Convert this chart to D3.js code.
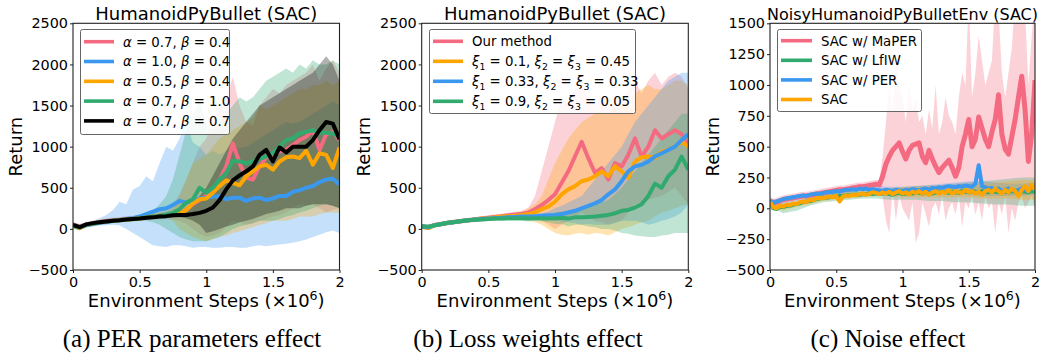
<!DOCTYPE html>
<html><head><meta charset="utf-8">
<script src="https://cdn.jsdelivr.net/npm/d3@7"></script>
<style>body{margin:0;background:#fff}svg{display:block}</style>
</head><body>
<script>
// ---------------- DATA ----------------
const steps05 = [0,0.05,0.1,0.15,0.2,0.25,0.3,0.35,0.4,0.45,0.5,0.55,0.6,0.65,0.7,0.75,0.8,0.85,0.9,0.95,1,1.05,1.1,1.15,1.2,1.25,1.3,1.35,1.4,1.45,1.5,1.55,1.6,1.65,1.7,1.75,1.8,1.85,1.9,1.95,2];
const steps10 = [0,0.1,0.2,0.3,0.4,0.5,0.6,0.7,0.8,0.9,1,1.1,1.2,1.3,1.4,1.5,1.6,1.7,1.8,1.9,2];
const steps025 = [0,0.025,0.05,0.075,0.1,0.125,0.15,0.175,0.2,0.225,0.25,0.275,0.3,0.325,0.35,0.375,0.4,0.425,0.45,0.475,0.5,0.525,0.55,0.575,0.6,0.625,0.65,0.675,0.7,0.725,0.75,0.775,0.8,0.825,0.85,0.875,0.9,0.925,0.95,0.975,1,1.025,1.05,1.075,1.1,1.125,1.15,1.175,1.2,1.225,1.25,1.275,1.3,1.325,1.35,1.375,1.4,1.425,1.45,1.475,1.5,1.525,1.55,1.575,1.6,1.625,1.65,1.675,1.7,1.725,1.75,1.775,1.8,1.825,1.85,1.875,1.9,1.925,1.95,1.975,2];

const xTicks = [0,0.5,1,1.5,2];
const xTickLabels = ["0","0.5","1","1.5","2"];
const yTicksA = [-500,0,500,1000,1500,2000,2500];
const yTicksC = [-500,-250,0,250,500,750,1000,1250,1500];

const titles = ["HumanoidPyBullet (SAC)","HumanoidPyBullet (SAC)","NoisyHumanoidPyBulletEnv (SAC)"];
const captions = ["(a) PER parameters effect","(b) Loss weights effect","(c) Noise effect"];

// Panel (a): PER parameters
const p1Pink   = [50,25,55,70,85,95,105,110,120,125,130,140,150,160,170,180,200,230,300,350,400,480,600,760,1040,800,620,600,760,870,900,940,960,1020,1080,1120,1200,960,1150,1180,1080];
const p1Blue   = [40,10,45,60,75,85,95,105,120,130,150,180,210,240,250,290,340,320,340,370,380,390,400,360,380,380,340,370,380,350,370,400,400,450,470,500,520,570,600,610,540];
const p1Orange = [40,10,50,65,80,90,100,105,115,120,130,140,150,160,170,180,190,230,310,360,370,440,520,590,560,530,640,700,760,780,720,820,870,880,860,950,780,920,900,740,990];
const p1Green  = [40,20,50,65,80,90,100,105,115,120,130,140,150,160,175,195,240,320,360,500,440,500,600,680,830,820,800,820,850,880,920,1000,1080,1100,1160,1180,1200,1170,1170,1160,1120];
const p1Black  = [50,20,55,70,80,90,100,105,115,120,125,135,140,150,155,165,170,170,180,195,220,260,350,480,590,650,700,760,900,960,820,990,930,1000,1000,1000,1080,1200,1300,1280,1090];

const p1PinkUp   = [80,60,85,100,115,125,135,145,155,160,170,185,200,220,250,300,420,600,800,1000,1100,1300,1500,1600,1850,1500,1300,1250,1500,1600,1700,1650,1750,1800,1850,1900,2000,1800,1950,2050,1900];
const p1PinkLo   = [20,-10,25,40,55,65,75,80,90,95,100,105,110,115,120,110,100,60,0,-60,-100,-80,-50,20,100,80,50,70,100,120,150,170,200,250,300,280,300,250,200,230,250];
const p1BlueUp   = [80,60,80,100,130,170,230,330,300,480,520,640,580,800,1000,950,1100,1300,1050,1000,900,950,900,950,1000,980,1000,1050,1100,1150,1200,1250,1300,1280,1300,1350,1400,1450,1500,1550,1500];
const p1BlueLo   = [0,-20,20,30,40,45,50,40,0,-50,-100,-150,-200,-210,-220,-200,-200,-210,-230,-220,-220,-230,-230,-220,-220,-230,-230,-210,-200,-210,-200,-190,-180,-170,-150,-130,-100,-70,-40,-20,-50];
const p1OrangeUp = [70,40,75,90,105,115,125,135,145,150,160,170,180,190,200,250,400,600,800,850,900,1000,1100,1150,1200,1250,1300,1350,1500,1450,1500,1550,1600,1650,1700,1700,1750,1750,1800,1750,1800];
const p1OrangeLo = [10,-20,25,40,55,65,75,80,85,90,100,110,120,130,140,100,0,-50,-100,-130,-150,-130,-100,-80,-50,-30,0,20,50,70,100,100,100,120,150,150,150,180,200,200,200];
const p1GreenUp  = [70,50,75,90,105,115,125,135,145,150,160,180,220,300,400,600,900,1200,1400,1550,1300,1200,1300,1400,1500,1600,1550,1600,1700,1800,1850,1900,1950,1900,2000,1950,2050,2000,2000,2050,2000];
const p1GreenLo  = [10,-10,25,40,55,65,75,80,85,90,100,100,80,50,0,-50,-100,-130,-150,-150,-150,-120,-100,-50,0,30,50,70,100,100,100,120,150,170,200,220,250,280,300,280,250];
const p1BlackUp  = [70,40,75,90,100,110,120,125,135,140,145,155,160,170,180,190,200,220,300,400,500,650,800,950,1100,1200,1300,1400,1500,1550,1600,1650,1700,1750,1800,1850,1900,2000,2100,2000,1800];
const p1BlackLo  = [30,0,35,50,60,70,80,85,95,100,105,115,120,130,130,140,140,130,100,50,-50,-30,0,30,50,80,100,120,150,180,200,220,250,250,250,280,300,300,300,280,250];

// Panel (b): loss weights
const p2Pink   = [30,20,50,60,75,85,95,105,115,125,135,145,155,165,175,185,200,240,290,350,420,560,700,880,1060,860,680,740,600,800,760,900,1100,880,1000,1200,1100,1150,1200,1150,1000];
const p2Orange = [30,10,45,60,75,85,95,105,115,125,130,140,150,155,160,170,180,200,240,270,330,420,480,520,580,600,640,700,640,760,700,620,820,870,880,860,940,960,1000,1060,1000];
const p2Blue   = [30,20,45,60,75,85,95,105,115,120,125,130,135,140,145,150,150,155,160,165,170,180,200,220,250,280,310,350,420,480,580,700,760,780,820,880,920,960,1000,1080,1150];
const p2Green  = [30,25,45,60,75,85,95,105,110,115,120,125,125,130,130,130,125,130,130,125,130,135,125,140,140,145,150,160,170,190,220,230,260,300,400,550,500,640,720,880,720];

const p2PinkUp   = [60,50,75,90,105,115,125,135,145,155,165,175,185,195,205,220,260,400,700,1000,1300,1600,1500,1700,1750,1600,1500,1650,1450,1600,1550,1700,1800,1650,1800,1900,1750,1850,1900,1850,1700];
const p2PinkLo   = [0,-10,25,30,45,55,65,75,85,95,105,115,125,135,145,150,150,130,100,50,0,50,100,150,200,150,100,80,50,80,100,200,300,320,350,380,400,450,500,400,300];
const p2OrangeUp = [60,40,70,85,100,110,120,130,140,150,155,165,175,180,190,200,250,300,400,600,800,950,1100,1200,1300,1350,1400,1450,1400,1500,1500,1550,1650,1700,1750,1700,1700,1750,1800,1800,1750];
const p2OrangeLo = [0,-20,20,35,50,60,70,80,90,100,105,115,125,130,130,130,110,80,50,0,-50,-70,-80,-60,-50,-70,-50,-60,-80,-40,0,20,50,80,100,150,200,220,250,280,300];
const p2BlueUp   = [60,50,70,85,100,110,120,130,140,145,150,155,160,165,170,175,180,185,190,210,250,280,320,360,400,500,600,700,800,900,1000,1150,1300,1400,1500,1600,1700,1800,1850,1900,1900];
const p2BlueLo   = [0,-10,20,35,50,60,70,80,90,95,100,105,110,115,120,125,120,125,130,120,100,90,80,70,50,60,50,50,50,70,100,100,100,80,50,70,100,120,150,200,300];
const p2GreenUp  = [60,55,70,85,100,110,120,130,135,140,145,150,155,160,160,160,160,165,170,170,200,210,220,240,250,280,300,320,350,420,500,600,700,800,900,1000,1100,1200,1300,1400,1400];
const p2GreenLo  = [0,-5,20,35,50,60,70,80,85,90,95,100,95,100,100,100,90,95,90,80,60,60,30,50,50,30,20,0,0,-20,-50,-60,-80,-90,-100,-100,-80,-70,-50,-50,-50];

// Panel (c): noise
const p3Pink = [60,40,50,60,70,75,80,85,90,95,100,100,105,110,115,120,125,130,135,140,145,150,150,155,160,165,170,175,175,180,185,190,195,
  190,260,360,420,470,500,530,460,400,470,510,520,530,420,370,470,400,340,290,330,360,390,330,260,330,500,600,720,500,560,740,650,560,500,620,720,920,600,480,440,580,720,900,1070,800,380,600,1040];
const p3PinkUp = [95,75,85,95,105,110,115,120,125,130,135,135,140,145,150,155,160,165,170,175,180,185,185,190,195,200,205,210,210,215,220,225,230,
  230,420,700,1000,800,1200,1000,900,700,1000,800,900,700,750,600,800,650,1000,600,700,900,750,700,600,900,1100,1000,1700,900,1100,1400,1200,1000,1100,1200,1700,1600,1100,900,1100,1300,1700,1600,1800,1600,1000,1400,1700];
const p3PinkLo = [25,5,15,25,35,40,45,50,55,60,65,65,70,75,80,85,90,95,100,105,110,115,115,120,125,130,135,140,140,145,150,155,160,
  150,100,-100,-200,150,-100,100,0,-50,-100,50,-280,-200,50,-50,-150,0,50,-50,100,-100,0,50,-50,100,-150,50,0,100,-50,50,-100,100,0,50,-200,50,-50,100,-200,0,-100,50,100,0,50,100,0];
const p3Green = [40,0,-5,10,10,20,20,30,35,40,50,55,60,65,75,80,85,85,90,95,95,100,100,105,105,110,110,110,115,115,120,115,120,115,120,125,115,110,120,125,115,120,125,120,130,125,120,130,125,120,130,125,135,130,125,135,130,125,140,135,130,140,135,130,140,135,130,140,135,130,140,135,130,140,135,130,140,135,130,140,135];
const p3Blue = [60,45,55,65,75,80,85,90,95,100,105,100,110,115,120,115,125,130,130,135,140,135,145,150,150,155,150,160,155,160,150,155,150,145,140,150,145,140,150,145,140,150,145,155,150,145,155,160,150,165,160,170,165,175,180,175,170,180,175,185,180,175,200,350,180,170,160,165,150,160,140,150,160,150,140,150,160,150,140,170,160];
const p3Orange = [50,10,0,20,15,30,25,40,35,50,55,50,70,65,80,85,80,90,95,90,100,55,95,105,100,110,105,115,120,110,120,130,125,115,130,120,135,115,130,140,120,130,115,135,125,140,120,135,110,130,140,120,135,125,145,120,140,130,125,150,130,140,120,135,110,140,150,130,160,140,120,150,130,160,140,100,150,180,140,190,150];
const p3OrangeUp = [80,40,60,90,100,120,130,140,150,160,170,175,180,185,190,200,200,210,220,230,230];
const p3OrangeLo = [20,-20,10,30,60,70,80,90,100,100,90,90,90,90,90,90,80,80,80,70,70];
const p3GreenUp  = [70,30,50,80,110,130,140,150,160,165,170,180,185,190,200,210,220,230,240,250,250];
const p3GreenLo  = [10,-40,-20,20,50,60,70,80,80,70,70,70,60,60,50,50,40,30,30,20,20];
const p3BlueUp   = [80,70,100,120,140,160,170,180,180,175,175,180,190,200,210,220,220,210,200,200,210];
const p3BlueLo   = [40,30,60,80,100,110,120,120,120,110,110,110,120,120,120,110,100,100,100,100,110];

// Legend labels (segments: [text, style])
const legendA = [
  [["α","i"],[" = 0.7, "],["β","i"],[" = 0.4"]],
  [["α","i"],[" = 1.0, "],["β","i"],[" = 0.4"]],
  [["α","i"],[" = 0.5, "],["β","i"],[" = 0.4"]],
  [["α","i"],[" = 0.7, "],["β","i"],[" = 1.0"]],
  [["α","i"],[" = 0.7, "],["β","i"],[" = 0.7"]]
];
const legendB = [
  [["Our method"]],
  [["ξ","i"],["1","sub"],[" = 0.1, "],["ξ","i"],["2","sub"],[" = "],["ξ","i"],["3","sub"],[" = 0.45"]],
  [["ξ","i"],["1","sub"],[" = 0.33, "],["ξ","i"],["2","sub"],[" = "],["ξ","i"],["3","sub"],[" = 0.33"]],
  [["ξ","i"],["1","sub"],[" = 0.9, "],["ξ","i"],["2","sub"],[" = "],["ξ","i"],["3","sub"],[" = 0.05"]]
];
const legendC = [[["SAC w/ MaPER"]],[["SAC w/ LfIW"]],[["SAC w/ PER"]],[["SAC"]]];

// ---------------- STYLE ----------------
const C = {pink:"#f46a80", blue:"#3a98ef", orange:"#ffa500", green:"#31aa6f", black:"#000000"};
const SANS = "'DejaVu Sans', sans-serif";
const SERIF = "'Liberation Serif', 'Times New Roman', serif";

const svg = d3.select("body").append("svg").attr("width",1043).attr("height",356);

function rich(textSel, segs, fs){
  let shift = 0;
  segs.forEach(s=>{
    const t = textSel.append("tspan").text(s[0]);
    let target = 0;
    if (s[1]==="i") t.style("font-style","italic");
    if (s[1]==="sub"){ target = fs*0.28; t.style("font-size", (fs*0.7)+"px"); }
    if (s[1]==="sup"){ target = -fs*0.4; t.style("font-size", (fs*0.7)+"px"); }
    if (target!==shift){ t.attr("dy", target-shift); shift = target; }
  });
}

function panel(cfg, idx){
  const x = d3.scaleLinear().domain([0,2]).range([cfg.left,cfg.right]);
  const y = d3.scaleLinear().domain(cfg.yDomain).range([cfg.bottom,cfg.top]);
  const g = svg.append("g");
  const cid = "clip"+idx;
  svg.append("clipPath").attr("id",cid).append("rect")
    .attr("x",cfg.left).attr("y",cfg.top).attr("width",cfg.right-cfg.left).attr("height",cfg.bottom-cfg.top);
  const plot = g.append("g").attr("clip-path",`url(#${cid})`);

  cfg.series.forEach(s=>{
    const pts = s.bx.map((xx,i)=>({x:xx, lo:s.lo[i], up:s.up[i]}));
    plot.append("path").datum(pts)
      .attr("d", d3.area().x(d=>x(d.x)).y0(d=>y(d.lo)).y1(d=>y(d.up)))
      .attr("fill", s.color).attr("fill-opacity", cfg.bandAlpha);
  });
  cfg.series.forEach(s=>{
    const pts = s.x.map((xx,i)=>({x:xx, v:s.mean[i]}));
    plot.append("path").datum(pts)
      .attr("d", d3.line().x(d=>x(d.x)).y(d=>y(d.v)))
      .attr("fill","none").attr("stroke", s.color).attr("stroke-width", s.lw || cfg.lw)
      .attr("stroke-linejoin","round");
  });

  const ya = g.append("g").attr("transform",`translate(${cfg.left},0)`)
    .call(d3.axisLeft(y).tickValues(cfg.yTicks).tickFormat(d3.format("d")).tickSize(3).tickPadding(2));
  const xa = g.append("g").attr("transform",`translate(0,${cfg.bottom})`)
    .call(d3.axisBottom(x).tickValues(xTicks).tickFormat((d,i)=>xTickLabels[i]).tickSize(3).tickPadding(4));
  [ya,xa].forEach(a=>{
    a.select(".domain").remove();
    a.selectAll("text").style("font-size","14.4px").style("font-family",SANS).attr("fill","#000");
    a.selectAll("line").attr("stroke","#222");
  });
  g.append("rect").attr("x",cfg.left).attr("y",cfg.top)
    .attr("width",cfg.right-cfg.left).attr("height",cfg.bottom-cfg.top)
    .attr("fill","none").attr("stroke","#222").attr("stroke-width",1.1);

  const cx = (cfg.left+cfg.right)/2;
  g.append("text").attr("x",cx).attr("y",19.5).attr("text-anchor","middle")
    .style("font-family",SANS).style("font-size",cfg.titleSize+"px").text(titles[idx]);
  g.append("text").attr("transform",`translate(${cfg.left-51.3},${(cfg.top+cfg.bottom)/2}) rotate(-90)`)
    .attr("text-anchor","middle").style("font-family",SANS).style("font-size","18px").text("Return");
  const xl = g.append("text").attr("x",cx).attr("y",307).attr("text-anchor","middle")
    .style("font-family",SANS).style("font-size","18px");
  rich(xl, [["Environment Steps (×10"],["6","sup"],[")"]], 18);
  g.append("text").attr("x",cfg.capX).attr("y",347).attr("text-anchor","middle")
    .style("font-family",SERIF).style("font-size","25px").text(captions[idx]);

  const L = cfg.legend;
  const lg = g.append("g");
  lg.append("rect").attr("x",L.x).attr("y",L.y).attr("width",L.w).attr("height",L.h)
    .attr("rx",2).attr("fill","#fff").attr("fill-opacity",0.85).attr("stroke","#666").attr("stroke-width",1);
  L.labels.forEach((lab,i)=>{
    const ry = L.y0 + i*L.dy;
    lg.append("line").attr("x1",L.sx1).attr("x2",L.sx2).attr("y1",ry).attr("y2",ry)
      .attr("stroke",L.colors[i]).attr("stroke-width",3.6);
    const t = lg.append("text").attr("x",L.tx).attr("y",ry+4.8)
      .style("font-family",SANS).style("font-size","13.3px");
    rich(t, lab, 13.3);
  });
}

panel({
  left:73, right:339.5, top:23.3, bottom:270, yDomain:[-500,2500], yTicks:yTicksA,
  titleSize:18, bandAlpha:0.3, lw:4, capX:192,
  series:[
    {color:C.pink, x:steps05, mean:p1Pink, bx:steps05, lo:p1PinkLo, up:p1PinkUp},
    {color:C.blue, x:steps05, mean:p1Blue, bx:steps05, lo:p1BlueLo, up:p1BlueUp},
    {color:C.orange, x:steps05, mean:p1Orange, bx:steps05, lo:p1OrangeLo, up:p1OrangeUp},
    {color:C.green, x:steps05, mean:p1Green, bx:steps05, lo:p1GreenLo, up:p1GreenUp},
    {color:C.black, x:steps05, mean:p1Black, bx:steps05, lo:p1BlackLo, up:p1BlackUp}
  ],
  legend:{x:80.5,y:29.5,w:149,h:105,y0:41.7,dy:19.8,sx1:84,sx2:114,tx:123,
    labels:legendA, colors:[C.pink,C.blue,C.orange,C.green,C.black]}
},0);

panel({
  left:421.7, right:688.3, top:23.3, bottom:270, yDomain:[-500,2500], yTicks:yTicksA,
  titleSize:18, bandAlpha:0.3, lw:4, capX:528,
  series:[
    {color:C.pink, x:steps05, mean:p2Pink, bx:steps05, lo:p2PinkLo, up:p2PinkUp},
    {color:C.orange, x:steps05, mean:p2Orange, bx:steps05, lo:p2OrangeLo, up:p2OrangeUp},
    {color:C.blue, x:steps05, mean:p2Blue, bx:steps05, lo:p2BlueLo, up:p2BlueUp},
    {color:C.green, x:steps05, mean:p2Green, bx:steps05, lo:p2GreenLo, up:p2GreenUp}
  ],
  legend:{x:429.5,y:29.5,w:206,h:84,y0:41.3,dy:20,sx1:433,sx2:463,tx:472,
    labels:legendB, colors:[C.pink,C.orange,C.blue,C.green]}
},1);

panel({
  left:770, right:1035, top:23.3, bottom:270, yDomain:[-500,1500], yTicks:yTicksC,
  titleSize:16, bandAlpha:0.3, lw:4, capX:888,
  series:[
    {color:C.pink, x:steps025, mean:p3Pink, bx:steps025, lo:p3PinkLo, up:p3PinkUp, lw:5},
    {color:C.green, x:steps025, mean:p3Green, bx:steps10, lo:p3GreenLo, up:p3GreenUp},
    {color:C.blue, x:steps025, mean:p3Blue, bx:steps10, lo:p3BlueLo, up:p3BlueUp},
    {color:C.orange, x:steps025, mean:p3Orange, bx:steps10, lo:p3OrangeLo, up:p3OrangeUp}
  ],
  legend:{x:777.5,y:29.5,w:144,h:82,y0:40.7,dy:19.6,sx1:781,sx2:812,tx:821,
    labels:legendC, colors:[C.pink,C.green,C.blue,C.orange]}
},2);
</script>
</body></html>
